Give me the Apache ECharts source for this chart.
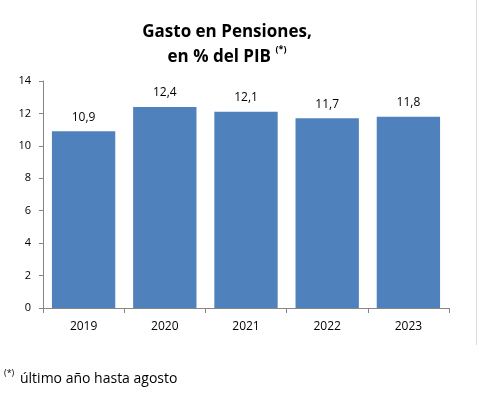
<!DOCTYPE html>
<html><head><meta charset="utf-8">
<script src="https://cdn.jsdelivr.net/npm/echarts@6/dist/echarts.min.js"></script>
<style>html,body{margin:0;padding:0;background:#fff}#c{width:483px;height:395px}</style>
</head><body><div id="c"></div>
<script>
const categories = ['2019','2020','2021','2022','2023'];
const values = [10.9, 12.4, 12.1, 11.7, 11.8];
const yTicks = [0, 2, 4, 6, 8, 10, 12, 14];

const chart = echarts.init(document.getElementById('c'));
const font = '"Open Sans", "Liberation Sans", sans-serif';
chart.setOption({
  animation: false,
  backgroundColor: '#fff',
  title: {
    text: '{a|Gasto en Pensiones,}\n{a|en % del PIB }{s|(*)}',
    left: 222, top: 15, textAlign: 'center',
    textStyle: {
      rich: {
        a: {fontFamily: font, fontSize: 17, fontWeight: 'bold', color: '#000', lineHeight: 25},
        s: {fontFamily: font, fontSize: 9, color: '#000', verticalAlign: 'top', padding: [0,0,8,0], lineHeight: 25}
      }
    }
  },
  grid: {left: 43, right: 34, top: 81, bottom: 87},
  xAxis: {
    type: 'category', data: categories,
    axisLine: {lineStyle: {color: '#868686'}},
    axisTick: {show: true, length: 5, lineStyle: {color: '#868686'}},
    axisLabel: {color: '#000', fontFamily: font, fontSize: 12, margin: 13}
  },
  yAxis: {
    type: 'value', min: 0, max: 14, interval: 2,
    axisLine: {show: true, lineStyle: {color: '#868686'}},
    axisTick: {show: true, length: 4, lineStyle: {color: '#868686'}},
    splitLine: {show: false},
    axisLabel: {color: '#000', fontFamily: font, fontSize: 11, margin: 12,
      formatter: v => yTicks.includes(v) ? String(v) : ''}
  },
  series: [{
    type: 'bar', data: values, barCategoryGap: '22%',
    itemStyle: {color: '#4F81BD'},
    label: {show: true, position: 'top', distance: 8, color: '#000', fontFamily: font, fontSize: 12,
      formatter: p => p.value.toFixed(1).replace('.', ',')}
  }],
  graphic: [
    {type: 'line', shape: {x1: 476.5, y1: 0, x2: 476.5, y2: 345}, style: {stroke: '#d9d9d9', lineWidth: 1}},
    {type: 'text', left: 4, top: 369, style: {text: '(*)', font: '9px ' + font, fill: '#000'}},
    {type: 'text', left: 20, top: 372, style: {text: 'último año hasta agosto', font: '14px ' + font, fill: '#000'}}
  ]
});
</script></body></html>
